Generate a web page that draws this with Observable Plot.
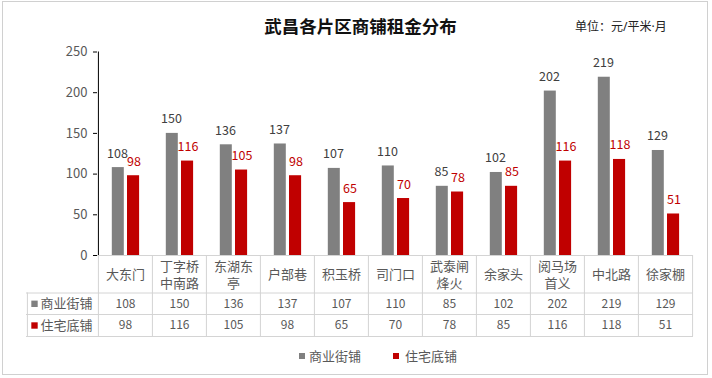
<!DOCTYPE html>
<html>
<head>
<meta charset="utf-8">
<script src="https://cdn.jsdelivr.net/npm/d3@7"></script>
<script src="https://cdn.jsdelivr.net/npm/@observablehq/plot@0.6"></script>
<style>
  html, body { margin: 0; padding: 0; background: #fff; }
  #wrap { position: relative; width: 712px; height: 378px; overflow: hidden; font-family: "Noto Sans CJK SC", "Noto Sans", sans-serif; }
  #border { position: absolute; left: 2px; top: 1px; width: 706px; height: 374px; border: 1px solid #d0d0d0; box-sizing: border-box; }
  #title { position: absolute; left: 0; width: 721px; top: 14px; text-align: center; font-size: 17.5px; font-weight: bold; color: #111; line-height: 24px; }
  #unit { position: absolute; left: 575px; top: 18px; font-size: 12px; color: #222; line-height: 18px; font-family: "Noto Sans", "Noto Sans CJK SC", sans-serif; }
  #chart { position: absolute; left: 0; top: 40px; }
  .leg { position: absolute; top: 347px; font-size: 13px; color: #595959; line-height: 18px; }
  .sw { position: absolute; top: 353px; width: 6px; height: 6px; }
</style>
</head>
<body>
<div id="wrap">
  <div id="border"></div>
  <div id="title"></div>
  <div id="unit"></div>
  <div id="chart"></div>
  <div class="sw" id="sw0"></div><div class="leg" id="lg0"></div>
  <div class="sw" id="sw1"></div><div class="leg" id="lg1"></div>
</div>
<script>
const title = "武昌各片区商铺租金分布";
const unitText = "单位：元/平米·月";
const categories = ["大东门", "丁字桥\n中南路", "东湖东\n亭", "户部巷", "积玉桥", "司门口", "武泰闸\n烽火", "余家头", "阅马场\n首义", "中北路", "徐家棚"];
const commercial = [108, 150, 136, 137, 107, 110, 85, 102, 202, 219, 129];
const residential = [98, 116, 105, 98, 65, 70, 78, 85, 116, 118, 51];
const seriesNames = ["商业街铺", "住宅底铺"];
const seriesColors = ["#808080", "#c00000"];
const yTicks = [0, 50, 100, 150, 200, 250];

document.getElementById("title").textContent = title;
document.getElementById("unit").textContent = unitText;

const W = 712, H = 300;
const ML = 97, MR = 19, MT = 11.5, MB = 85;
const bw = (W - ML - MR) / categories.length;
const frameH = H - MT - MB;
const gridColor = "#d4d4d4";
const textColor = "#595959";
const row1 = 48.3, row2 = 70, catRow = 18.7;

const chart = Plot.plot({
  width: W, height: H,
  marginLeft: ML, marginRight: MR, marginTop: MT, marginBottom: MB,
  style: { fontFamily: "'Noto Sans CJK SC', 'Noto Sans', sans-serif", background: "transparent", overflow: "visible" },
  x: { domain: categories, padding: 0, axis: null },
  y: { domain: [0, 250], axis: null },
  marks: [
    // table grid: horizontal lines
    Plot.ruleY([0], { stroke: gridColor }),
    Plot.ruleY([0], { dy: 37.5, insetLeft: -71, stroke: gridColor }),
    Plot.ruleY([0], { dy: 59, insetLeft: -71, stroke: gridColor }),
    Plot.ruleY([0], { dy: 81, insetLeft: -71, stroke: gridColor }),
    // table grid: vertical lines
    Plot.ruleX(categories, { x: d => d, dx: -bw / 2, insetTop: frameH, insetBottom: -81, stroke: gridColor }),
    Plot.ruleX([categories[categories.length - 1]], { x: d => d, dx: bw / 2, insetTop: frameH, insetBottom: -81, stroke: gridColor }),
    Plot.ruleX([categories[0]], { x: d => d, dx: -bw / 2 - 71, insetTop: frameH + 37.5, insetBottom: -81, stroke: gridColor }),
    // bars
    Plot.barY(commercial, { x: (d, i) => categories[i], y: d => d, fill: seriesColors[0], insetLeft: 13.8, insetRight: 28.2 }),
    Plot.barY(residential, { x: (d, i) => categories[i], y: d => d, fill: seriesColors[1], insetLeft: 29, insetRight: 12.9 }),
    // value labels
    Plot.text(commercial, { x: (d, i) => categories[i], y: d => d, text: d => String(d), dx: -8, dy: -10, lineAnchor: "bottom", fill: "#404040", fontSize: 12.5 }),
    Plot.text(residential, { x: (d, i) => categories[i], y: d => d, text: d => String(d), dx: 8.5, dy: -10, lineAnchor: "bottom", fill: "#c00000", fontSize: 12.5 }),
    // y axis
    Plot.axisY(yTicks, { tickSize: 4, tickPadding: 6, fontSize: 13, fill: textColor, stroke: "#000", label: null }),
    Plot.ruleX([categories[0]], { x: d => d, dx: -bw / 2, stroke: "#000" }),
    // table text
    Plot.text(categories, { x: d => d, frameAnchor: "bottom", dy: catRow, lineAnchor: "middle", lineHeight: 1.25, fontSize: 13, fill: textColor }),
    Plot.text(commercial, { x: (d, i) => categories[i], text: d => String(d), frameAnchor: "bottom", dy: row1, lineAnchor: "middle", fontSize: 12, fill: textColor }),
    Plot.text(residential, { x: (d, i) => categories[i], text: d => String(d), frameAnchor: "bottom", dy: row2, lineAnchor: "middle", fontSize: 12, fill: textColor }),
    Plot.text([seriesNames[0]], { frameAnchor: "bottom-left", text: d => d, dx: -57, dy: row1, textAnchor: "start", lineAnchor: "middle", fontSize: 13, fill: textColor }),
    Plot.text([seriesNames[1]], { frameAnchor: "bottom-left", text: d => d, dx: -57, dy: row2, textAnchor: "start", lineAnchor: "middle", fontSize: 13, fill: textColor }),
    Plot.dot([seriesNames[0]], { frameAnchor: "bottom-left", dx: -63, dy: row1, symbol: "square", r: 3.6, fill: seriesColors[0], stroke: null }),
    Plot.dot([seriesNames[1]], { frameAnchor: "bottom-left", dx: -63, dy: row2, symbol: "square", r: 3.6, fill: seriesColors[1], stroke: null })
  ]
});
document.getElementById("chart").appendChild(chart);

// legend
const legX = [[299, 309], [393, 405]];
seriesNames.forEach((name, i) => {
  const sw = document.getElementById("sw" + i);
  sw.style.left = legX[i][0] + "px";
  sw.style.background = seriesColors[i];
  const lg = document.getElementById("lg" + i);
  lg.style.left = legX[i][1] + "px";
  lg.textContent = name;
});
</script>
</body>
</html>
